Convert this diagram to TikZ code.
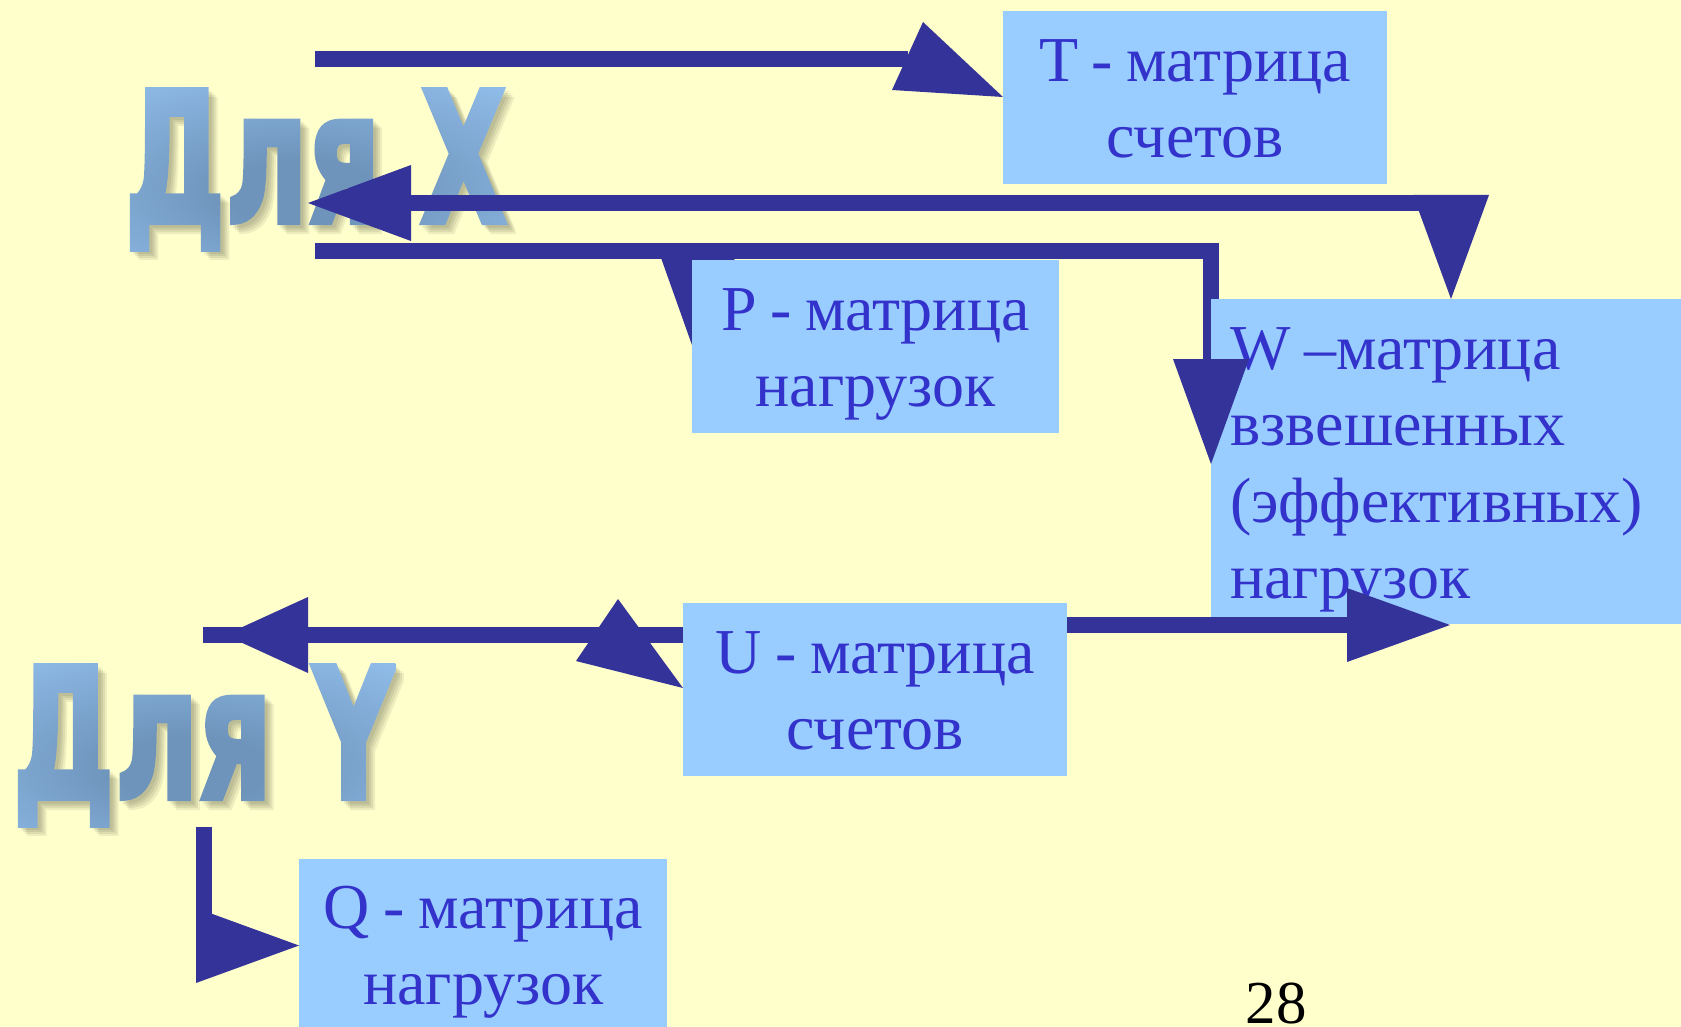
\documentclass[tikz,border=0pt]{standalone}
\usepackage{fontspec}
\usepackage{graphicx}
\setmainfont{Liberation Serif}
\newfontfamily\headfont{DejaVu Sans}[BoldFeatures={FakeBold=3}]
\usetikzlibrary{calc,fadings}

\definecolor{paper}{HTML}{FFFFCC}
\definecolor{boxfill}{HTML}{99CCFF}
\definecolor{boxtext}{HTML}{3333CC}
\definecolor{arrowc}{HTML}{333399}
\definecolor{headlight}{HTML}{9CCBFA}
\definecolor{headdark}{HTML}{6E94BB}

% soft blue-grey glow in the middle of the big headings
\pgfdeclareradialshading{headshade}{\pgfpoint{-2bp}{-8bp}}{%
  color(0bp)=(headdark); color(10bp)=(headdark); color(50bp)=(headlight); color(90bp)=(headlight)}

\newcommand\headX{\resizebox*{382pt}{163pt}{\headfont\bfseries Для X}}
\newcommand\headY{\resizebox*{382pt}{163pt}{\headfont\bfseries Для Y}}

\begin{tikzfadingfrompicture}[name=fadeX]
  \node[text=transparent!0, inner sep=0pt] {\headX};
\end{tikzfadingfrompicture}
\begin{tikzfadingfrompicture}[name=fadeY]
  \node[text=transparent!0, inner sep=0pt] {\headY};
\end{tikzfadingfrompicture}

\begin{document}
\begin{tikzpicture}[x=1pt, y=-1pt,
  mbox/.style={fill=boxfill, text=boxtext, inner sep=0pt, anchor=north west,
    font=\fontsize{64pt}{76.5pt}\selectfont, align=center,
    execute at begin node={\spaceskip=13.5pt\relax}},
  wire/.style={draw=arrowc, line width=16pt},
  head/.style={fill=arrowc},
  ]
  \fill[paper] (0,0) rectangle (1681,1027);
  \useasboundingbox (0,0) rectangle (1681,1027);

  % big headings: blurred drop shadow, then the shaded letters
  \node[inner sep=0pt] (forX) at (316,169.5) {\phantom{\headX}};
  \node[inner sep=0pt] (forY) at (204,745.5) {\phantom{\headY}};
  \foreach \d in {3,5,7,9} {
    \fill[black, opacity=0.07, path fading=fadeX, fit fading=false,
          fading transform={shift={($(forX.center)+(\d,\d)$)}}]
      ($(forX.north west)+(\d,\d)$) rectangle ($(forX.south east)+(\d,\d)$);
    \fill[black, opacity=0.07, path fading=fadeY, fit fading=false,
          fading transform={shift={($(forY.center)+(\d,\d)$)}}]
      ($(forY.north west)+(\d,\d)$) rectangle ($(forY.south east)+(\d,\d)$);
  }
  \shade[shading=headshade, path fading=fadeX, fit fading=false,
         fading transform={shift={(forX.center)}}]
    (forX.north west) rectangle (forX.south east);
  \shade[shading=headshade, path fading=fadeY, fit fading=false,
         fading transform={shift={(forY.center)}}]
    (forY.north west) rectangle (forY.south east);

  % free ends of the connectors next to the headings
  \coordinate (x1) at (315,59);
  \coordinate (x1e) at (908,59);
  \coordinate (x2) at (400,203);
  \coordinate (x2e) at (1451,203);
  \coordinate (x3) at (315,251);
  \coordinate (x3e) at (1211,360);
  \coordinate (y1) at (203,635);
  \coordinate (y2) at (203.5,827);
  \coordinate (y2e) at (203.5,946);

  % arrow into P, partly hidden by the box
  \fill[head] (660,255) -- (736,255) -- (698,362) -- cycle;

  % connector lines under the boxes
  \draw[wire] (x1) -- (x1e);
  \draw[wire] (x2) -- (x2e);
  \draw[wire] (x3) -| (x3e);
  \draw[wire] (y1) -- (683,635);
  \draw[wire] (y2) -- (y2e);

  % boxes
  \node[mbox, text width=384pt, text height=70pt, text depth=103pt] (T) at (1003,11) {T - матрица\\счетов};
  \node[mbox, text width=367pt, text height=70pt, text depth=103pt] (P) at (692,260) {P - матрица\\нагрузок};
  \node[mbox, text width=384pt, text height=70pt, text depth=103pt] (U) at (683,603) {U - матрица\\счетов};
  \node[mbox, text width=368pt, text height=69pt, text depth=111pt] (Q) at (299,859) {Q - матрица\\нагрузок};
  \node[mbox, align=left, inner xsep=19pt, text width=451pt, text height=70pt, text depth=255pt] (W) at (1211,299)
    {W –матрица\\взвешенных\\(эффективных)\\нагрузок};

  % arrowheads
  \fill[head] (923,22) -- (892,90) -- ($(T.north west)+(0,86)$) -- cycle;
  \fill[head] (308,203) -- (411,165) -- (411,241) -- cycle;
  \fill[head] (1413,195) -- (1489,195) -- ($(W.north west)+(240,0)$) -- cycle;
  \fill[head] (1173,359) -- (1249,359) -- ($(W.north west)+(0,165)$) -- cycle;

  \draw[wire] ($(U.north east)+(0,22)$) -- (1350,625);
  \fill[head] (1347,588) -- (1347,662) -- (1450,625) -- cycle;

  \fill[head] (225,635) -- (308,597) -- (308,673) -- cycle;
  \fill[head] (576,661) -- (618,599) -- ($(U.north west)+(0,85)$) -- cycle;

  \fill[head] (196,908) -- (196,983) -- ($(Q.north west)+(0,86.5)$) -- cycle;

  % page number
  \node[font=\fontsize{61pt}{70pt}\selectfont, anchor=base, inner sep=0pt] (pg) at (1276,1023) {28};
\end{tikzpicture}
\end{document}
